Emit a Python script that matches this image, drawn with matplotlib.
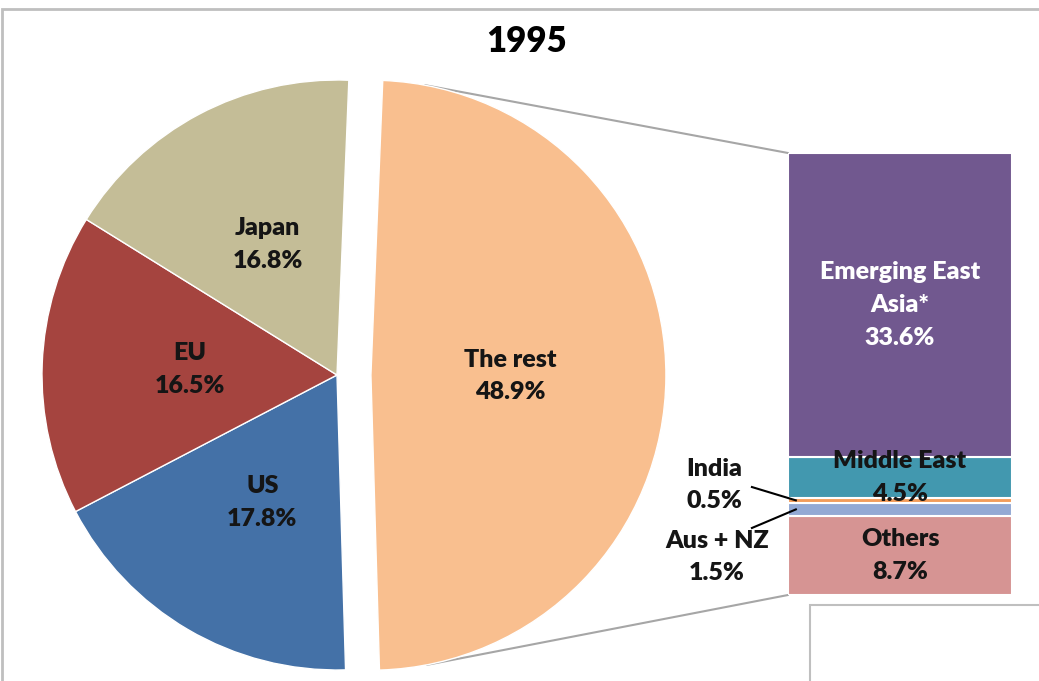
import numpy as np
import matplotlib
matplotlib.use("Agg")
import matplotlib.pyplot as plt
from matplotlib.patches import ConnectionPatch, Rectangle

# ---- data ----
title = "1995"
pie_labels = ["The rest", "US", "EU", "Japan"]
pie_values = [48.9, 17.8, 16.5, 16.8]
pie_colors = ["#F9BF8F", "#4471A7", "#A5443F", "#C4BD97"]

bar_labels = ["Others", "Aus + NZ", "India", "Middle East", "Emerging East\nAsia*"]
bar_values = [8.7, 1.5, 0.5, 4.5, 33.6]
bar_colors = ["#D69493", "#93A9D4", "#F39C5A", "#4298AF", "#71588F"]

plt.rcParams['font.family'] = ['Lato', 'DejaVu Sans']
FW = "heavy"

W, H = 1039, 681
fig = plt.figure(figsize=(W / 100, H / 100), dpi=100)


def px_rect(left, top, width, height):
    return [left / W, 1 - (top + height) / H, width / W, height / H]


# ---- pie ----
R = 295
cx, cy = 337, 375
S = 2.5 * R
ax_pie = fig.add_axes(px_rect(cx - S / 2, cy - S / 2, S, S))
wedges, texts = ax_pie.pie(
    pie_values,
    labels=[f"{l}\n{v}%" for l, v in zip(pie_labels, pie_values)],
    explode=[0.115, 0, 0, 0],
    startangle=87.7,
    counterclock=False,
    colors=pie_colors,
    labeldistance=0.5,
    wedgeprops=dict(edgecolor="white", linewidth=1),
    textprops=dict(fontsize=18, fontweight=FW, color="#151515"),
)
for t in texts:
    t.set_ha("center")
    t.set_va("center")
    t.set_multialignment("center")
    t.set_linespacing(1.6)
x0, y0 = texts[0].get_position()
texts[0].set_position((x0 - 0.027, y0))
ax_pie.set_xlim(-1.25, 1.25)
ax_pie.set_ylim(-1.25, 1.25)
ax_pie.axis("off")

# ---- bar ----
ax_bar = fig.add_axes(px_rect(788, 153, 224, 442))
bottoms = np.concatenate([[0], np.cumsum(bar_values)[:-1]])
total = float(np.sum(bar_values))
ax_bar.bar(np.zeros(len(bar_values)), bar_values, bottom=bottoms, width=1,
           color=bar_colors, edgecolor="white", linewidth=1.5)
ax_bar.set_xlim(-0.5, 0.5)
ax_bar.set_ylim(0, total)
ax_bar.axis("off")

mids = bottoms + np.array(bar_values) / 2
for i in [0, 3, 4]:
    ax_bar.text(0, mids[i], f"{bar_labels[i]}\n{bar_values[i]}%", ha="center", va="center",
                fontsize=18, fontweight=FW, linespacing=1.6,
                color="white" if i == 4 else "#151515")

# small segments labelled outside
ax_bar.text(-0.83, 12.14, f"{bar_labels[2]}\n{bar_values[2]}%", ha="center", va="center",
            fontsize=18, fontweight=FW, linespacing=1.6, color="#151515")
ax_bar.text(-0.817, 4.19, f"{bar_labels[1]}\n{bar_values[1]}%", ha="center", va="center",
            fontsize=18, fontweight=FW, linespacing=1.6, color="#151515")
ax_bar.plot([-0.661, -0.465], [11.92, mids[2]], color="black", lw=1.5, clip_on=False)
ax_bar.plot([-0.661, -0.465], [7.40, mids[1]], color="black", lw=1.5, clip_on=False)

# ---- connector lines (tangent to exploded slice) ----
ax_pie.apply_aspect()
w0 = wedges[0]
C = np.array(w0.center)
r = w0.r
for corner, sign in [((-0.5, total), 1), ((-0.5, 0), -1)]:
    P = ax_pie.transData.inverted().transform(ax_bar.transData.transform(corner))
    d = np.hypot(*(P - C))
    phi = np.arctan2(P[1] - C[1], P[0] - C[0])
    alpha = np.arccos(r / d)
    ang = phi + sign * alpha
    T = C + r * np.array([np.cos(ang), np.sin(ang)])
    con = ConnectionPatch(xyA=T, coordsA=ax_pie.transData, xyB=corner, coordsB=ax_bar.transData,
                          color="#A6A6A6", lw=1.5, zorder=0)
    fig.add_artist(con)

# ---- frame decorations ----
fig.add_artist(Rectangle((1.5 / W, -0.05), 1.1, 1.05 - 9 / H, transform=fig.transFigure,
                         fill=False, edgecolor="#BFBFBF", lw=2))
fig.add_artist(Rectangle((810 / W, -0.05), 1, 0.05 + (681 - 605) / H, transform=fig.transFigure,
                         fill=False, edgecolor="#BFBFBF", lw=1.5))

fig.text(527 / W, 1 - 42 / H, title, ha="center", va="center", fontsize=25, fontweight=FW)

fig.savefig("out.png", dpi=100)
